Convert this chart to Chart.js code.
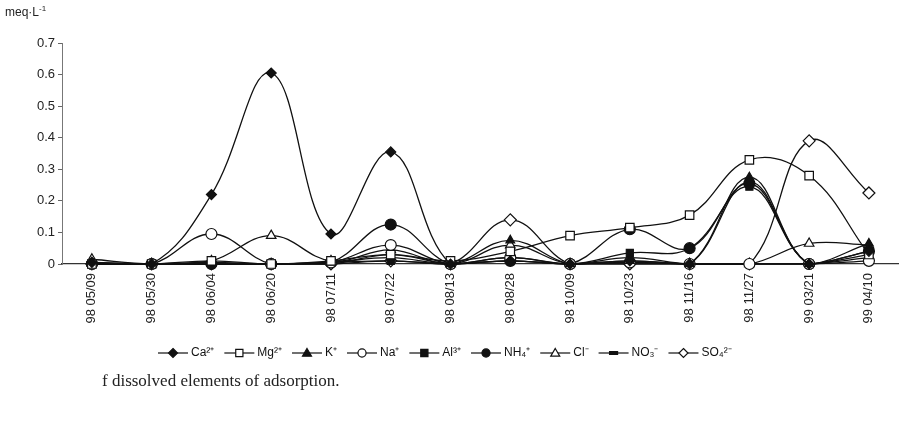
<!DOCTYPE html>
<html>
<head>
<meta charset="utf-8">
<script src="https://cdn.jsdelivr.net/npm/chart.js@4/dist/chart.umd.min.js"></script>
<style>
  body { margin: 0; background: #fff; }
  #wrap { position: relative; width: 906px; height: 421px; }
  #unit { position: absolute; left: 5px; top: 4px; font: 12px "Liberation Sans Narrow", "Liberation Sans", sans-serif; color: #222; }
  #caption { position: absolute; left: 102px; top: 371px; font: 17px "Liberation Serif", serif; color: #222; }
</style>
</head>
<body>
<div id="wrap">
  <canvas id="myChart" width="906" height="421"></canvas>
  <div id="unit">meq·L<sup style="font-size:8px">-1</sup></div>
  <div id="caption">f dissolved elements of adsorption.</div>
</div>
<script>
const dates = ["98 05/09", "98 05/30", "98 06/04", "98 06/20", "98 07/11", "98 07/22", "98 08/13",
  "98 08/28", "98 10/09", "98 10/23", "98 11/16", "98 11/27", "99 03/21", "99 04/10"];

const ca = [0.005, 0, 0.22, 0.605, 0.095, 0.355, 0, 0.01, 0, 0.01, 0, 0.26, 0, 0.04];
const mg = [0, 0, 0.01, 0, 0.01, 0.03, 0.01, 0.04, 0.09, 0.115, 0.155, 0.33, 0.28, 0.03];
const k = [0.005, 0, 0, 0, 0.005, 0.02, 0, 0.075, 0, 0.01, 0, 0.275, 0, 0.065];
const na = [0, 0, 0.095, 0, 0.005, 0.06, 0, 0.02, 0, 0.005, 0, 0, 0, 0.01];
const al = [0, 0, 0.005, 0, 0.005, 0.01, 0, 0.02, 0, 0.035, 0.05, 0.245, 0, 0.03];
const nh4 = [0, 0, 0, 0, 0.005, 0.125, 0, 0.01, 0, 0.11, 0.05, 0.255, 0, 0.04];
const cl = [0.015, 0, 0.01, 0.09, 0.01, 0.045, 0, 0.06, 0, 0.02, 0, 0, 0.065, 0.06];
const no3 = [0, 0, 0, 0, 0, 0.03, 0, 0.01, 0, 0.005, 0, 0, 0, 0.02];
const so4 = [0, 0, 0, 0, 0, 0.01, 0, 0.14, 0, 0, 0, 0, 0.39, 0.225];

const yTicks = [0, 0.1, 0.2, 0.3, 0.4, 0.5, 0.6, 0.7];

function series(label, data, style, filled, radius) {
  return {
    label: label,
    data: data,
    borderColor: "#111",
    borderWidth: 1.3,
    backgroundColor: filled ? "#111" : "#fff",
    pointStyle: style,
    pointRadius: radius,
    pointBorderWidth: 1.2,
    pointBorderColor: "#111",
    pointBackgroundColor: filled ? "#111" : "#fff",
    tension: 0.4,
    clip: 10,
  };
}

// legend with line + marker like the original
const lineLegend = {
  id: "lineLegend",
  afterDraw(chart) {
    const ctx = chart.ctx;
    const y = 353;
    let x = 158;
    ctx.save();
    ctx.font = '12px "Liberation Sans Narrow", "Liberation Sans", sans-serif';
    ctx.textBaseline = "middle";
    chart.data.datasets.forEach((ds) => {
      ctx.strokeStyle = "#111";
      ctx.lineWidth = 1.2;
      ctx.beginPath();
      ctx.moveTo(x, y);
      ctx.lineTo(x + 30, y);
      ctx.stroke();
      drawMarker(ctx, ds.pointStyle, x + 15, y, Math.min(ds.pointRadius, 4.5), ds.pointBackgroundColor);
      ctx.fillStyle = "#111";
      ctx.fillText(ds.label, x + 33, y);
      x += 33 + ctx.measureText(ds.label).width + 10;
    });
    ctx.restore();
  },
};

function drawMarker(ctx, style, x, y, r, fill) {
  ctx.fillStyle = fill;
  ctx.strokeStyle = "#111";
  ctx.lineWidth = 1.2;
  ctx.beginPath();
  if (style === "rectRot") {
    ctx.moveTo(x, y - r); ctx.lineTo(x + r, y); ctx.lineTo(x, y + r); ctx.lineTo(x - r, y); ctx.closePath();
  } else if (style === "rect") {
    ctx.rect(x - r * 0.8, y - r * 0.8, r * 1.6, r * 1.6);
  } else if (style === "triangle") {
    ctx.moveTo(x, y - r); ctx.lineTo(x + r, y + r * 0.7); ctx.lineTo(x - r, y + r * 0.7); ctx.closePath();
  } else if (style === "circle") {
    ctx.arc(x, y, r * 0.9, 0, Math.PI * 2);
  } else {
    ctx.rect(x - r, y - 1.5, r * 2, 3);
  }
  ctx.fill();
  ctx.stroke();
}

new Chart(document.getElementById("myChart"), {
  type: "line",
  data: {
    labels: dates,
    datasets: [
      series("Ca²⁺", ca, "rectRot", true, 5),
      series("Mg²⁺", mg, "rect", false, 6),
      series("K⁺", k, "triangle", true, 5),
      series("Na⁺", na, "circle", false, 5.5),
      series("Al³⁺", al, "rect", true, 5),
      series("NH₄⁺", nh4, "circle", true, 5.5),
      series("Cl⁻", cl, "triangle", false, 5.5),
      series("NO₃⁻", no3, "dash", true, 4),
      series("SO₄²⁻", so4, "rectRot", false, 6),
    ],
  },
  options: {
    responsive: false,
    animation: false,
    layout: { padding: { top: 43, right: 0, left: 0, bottom: 0 } },
    plugins: { legend: { display: false }, tooltip: { enabled: false } },
    scales: {
      x: {
        offset: true,
        grid: { display: true, drawOnChartArea: false, drawTicks: false },
        border: { display: true, color: "#333", width: 1.2 },
        ticks: {
          minRotation: 90,
          maxRotation: 90,
          padding: 9,
          color: "#222",
          font: { family: "Liberation Sans, Arial, sans-serif", size: 13 },
        },
        afterFit(scale) { scale.height = 157; },
      },
      y: {
        min: 0,
        max: 0.7,
        afterBuildTicks(scale) { scale.ticks = yTicks.map((v) => ({ value: v })); },
        grid: { display: true, drawOnChartArea: false, drawTicks: true, tickLength: 4, color: "#666" },
        border: { display: true, color: "#777", width: 1, dash: [2, 1] },
        ticks: {
          padding: 3,
          color: "#222",
          font: { family: "Liberation Sans, Arial, sans-serif", size: 13 },
          callback: (v) => (v === 0 ? "0" : v.toFixed(1)),
        },
        afterFit(scale) { scale.width = 62; },
      },
    },
  },
  plugins: [lineLegend],
});
</script>
</body>
</html>
